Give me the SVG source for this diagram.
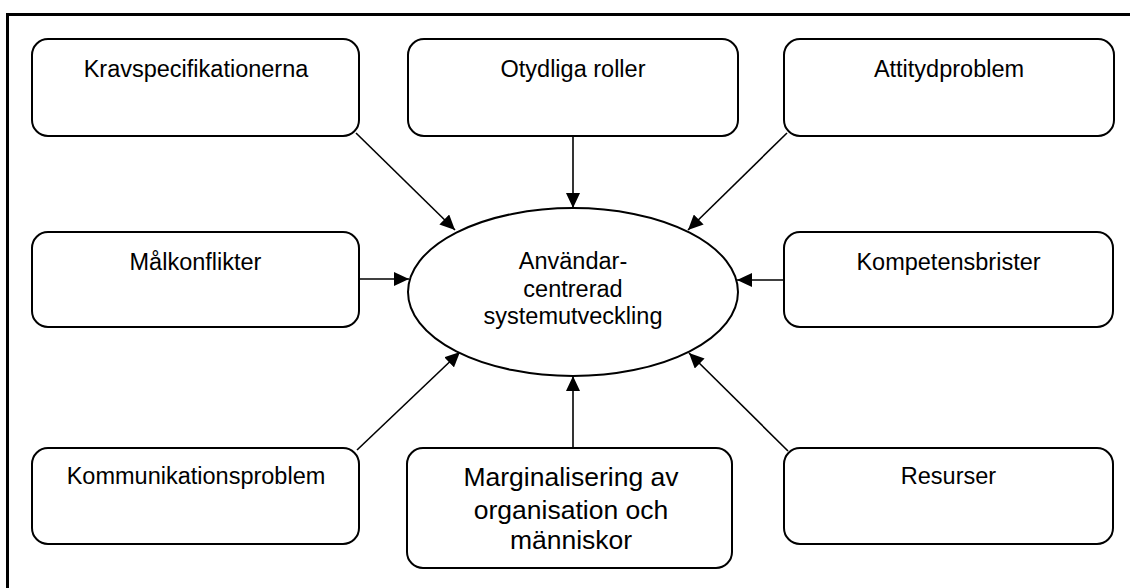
<svg xmlns="http://www.w3.org/2000/svg" width="1130" height="588" viewBox="0 0 1130 588">
  <style>
    .box { fill: #ffffff; stroke: #000000; stroke-width: 2; }
    .frame { fill: none; stroke: #000000; stroke-width: 3; }
    .lbl { font-family: "Liberation Sans", Arial, sans-serif; font-size: 23.5px; fill: #000000; text-anchor: middle; }
    .big { font-size: 26.5px; }
    .conn { stroke: #000000; stroke-width: 1.6; fill: none; marker-end: url(#arrow); }
  </style>
  <defs>
    <marker id="arrow" viewBox="0 0 15 14" refX="15" refY="7" markerWidth="15" markerHeight="14" markerUnits="userSpaceOnUse" orient="auto">
      <path d="M0,0 L15,7 L0,14 z" fill="#000000"/>
    </marker>
  </defs>
  <rect x="0" y="0" width="1130" height="588" fill="#ffffff"/>
  <!-- outer frame -->
  <rect class="frame" x="7.5" y="14.5" width="1140" height="600"/>

  <!-- connectors -->
  <g id="connectors">
    <line class="conn" x1="356" y1="133" x2="455" y2="230"/>
    <line class="conn" x1="573" y1="136" x2="573" y2="208"/>
    <line class="conn" x1="787" y1="133" x2="688" y2="230"/>
    <line class="conn" x1="359" y1="279" x2="409" y2="279"/>
    <line class="conn" x1="784" y1="280" x2="737" y2="280"/>
    <line class="conn" x1="357" y1="450" x2="460" y2="352"/>
    <line class="conn" x1="573" y1="448" x2="573" y2="376"/>
    <line class="conn" x1="788" y1="451" x2="689" y2="353"/>
  </g>

  <g id="center">
    <ellipse cx="573" cy="292" rx="165" ry="84" fill="#ffffff" stroke="#000000" stroke-width="2"/>
    <text class="lbl" x="573" y="269">Användar-</text>
    <text class="lbl" x="573" y="297">centrerad</text>
    <text class="lbl" x="573" y="324">systemutveckling</text>
  </g>

  <g id="krav">
    <rect class="box" x="32" y="39" width="327" height="97" rx="16"/>
    <text class="lbl" x="196" y="77">Kravspecifikationerna</text>
  </g>
  <g id="roller">
    <rect class="box" x="408" y="39" width="330" height="97" rx="16"/>
    <text class="lbl" x="573" y="77">Otydliga roller</text>
  </g>
  <g id="attityd">
    <rect class="box" x="784" y="39" width="330" height="97" rx="16"/>
    <text class="lbl" x="949" y="77">Attitydproblem</text>
  </g>
  <g id="malkonflikter">
    <rect class="box" x="32" y="232" width="327" height="95" rx="16"/>
    <text class="lbl" x="195.5" y="270">Målkonflikter</text>
  </g>
  <g id="kompetens">
    <rect class="box" x="784" y="232" width="329" height="95" rx="16"/>
    <text class="lbl" x="948.5" y="270">Kompetensbrister</text>
  </g>
  <g id="kommunikation">
    <rect class="box" x="32" y="448" width="327" height="96" rx="16"/>
    <text class="lbl" x="196" y="484">Kommunikationsproblem</text>
  </g>
  <g id="marginalisering">
    <rect class="box" x="407" y="448" width="325" height="120" rx="16"/>
    <text class="lbl big" x="571" y="486">Marginalisering av</text>
    <text class="lbl big" x="571" y="519">organisation och</text>
    <text class="lbl big" x="571" y="549">människor</text>
  </g>
  <g id="resurser">
    <rect class="box" x="784" y="448" width="329" height="96" rx="16"/>
    <text class="lbl" x="948.5" y="484">Resurser</text>
  </g>
</svg>
